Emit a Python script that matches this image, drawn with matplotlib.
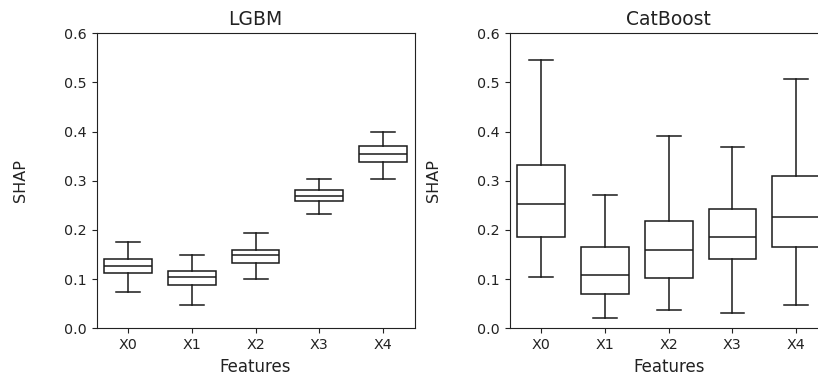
import matplotlib
matplotlib.use("Agg")
import matplotlib.pyplot as plt

features = ["X0", "X1", "X2", "X3", "X4"]

# LGBM SHAP box statistics
lgbm_whislo = [0.0746, 0.048, 0.101, 0.232, 0.3037]
lgbm_q1 = [0.112, 0.0875, 0.133, 0.258, 0.338]
lgbm_med = [0.1275, 0.104, 0.1485, 0.269, 0.3546]
lgbm_q3 = [0.1417, 0.117, 0.160, 0.282, 0.370]
lgbm_whishi = [0.176, 0.149, 0.1946, 0.3037, 0.399]

# CatBoost SHAP box statistics
cat_whislo = [0.1037, 0.021, 0.0373, 0.0319, 0.048]
cat_q1 = [0.1864, 0.069, 0.1017, 0.1417, 0.1654]
cat_med = [0.253, 0.1085, 0.160, 0.1864, 0.2264]
cat_q3 = [0.333, 0.1647, 0.218, 0.242, 0.309]
cat_whishi = [0.546, 0.272, 0.391, 0.368, 0.5065]

titles = ["LGBM", "CatBoost"]


def make_stats(lo, q1, med, q3, hi):
    return [dict(whislo=a, q1=b, med=c, q3=d, whishi=e, fliers=[], label=f)
            for a, b, c, d, e, f in zip(lo, q1, med, q3, hi, features)]


W, H = 818, 384
fig = plt.figure(figsize=(W / 100, H / 100), dpi=100)
ax1 = fig.add_axes([96.5 / W, (H - 328.3) / H, 318.2 / W, 295 / H])
ax2 = fig.add_axes([509.5 / W, (H - 328.3) / H, 318.5 / W, 295 / H])

data = [make_stats(lgbm_whislo, lgbm_q1, lgbm_med, lgbm_q3, lgbm_whishi),
        make_stats(cat_whislo, cat_q1, cat_med, cat_q3, cat_whishi)]

lc = "#1a1a1a"
for ax, stats, title in zip([ax1, ax2], data, titles):
    ax.bxp(stats, widths=0.75, showfliers=False, patch_artist=True,
           boxprops=dict(facecolor="white", edgecolor=lc, linewidth=1.1),
           medianprops=dict(color=lc, linewidth=1.1),
           whiskerprops=dict(color=lc, linewidth=1.1),
           capprops=dict(color=lc, linewidth=1.1))
    ax.set_ylim(0, 0.6)
    ax.set_xlim(0.5, 5.5)
    ax.set_yticks([0.0, 0.1, 0.2, 0.3, 0.4, 0.5, 0.6])
    ax.set_title(title, fontsize=13.5, color="#222222")
    ax.set_xlabel("Features", fontsize=12, color="#222222")
    ax.set_ylabel("SHAP", fontsize=11.5, labelpad=26, color="#222222")
    ax.tick_params(labelsize=10.3, colors="#222222")
    for s in ax.spines.values():
        s.set_color("#222222")

fig.savefig("out.png", dpi=100)
